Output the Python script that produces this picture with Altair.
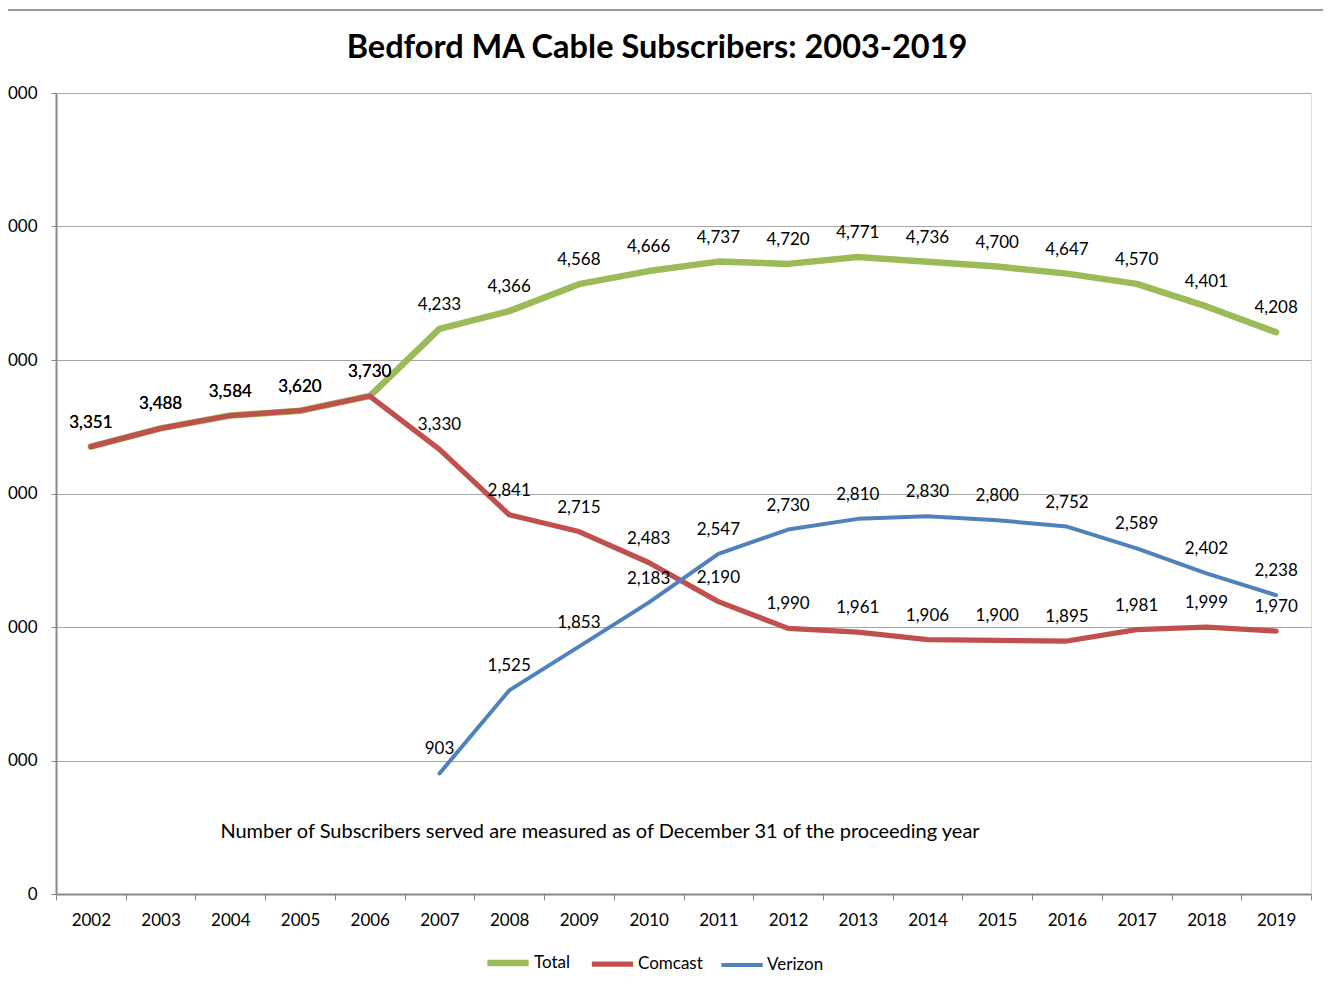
import altair as alt
import pandas as pd

years = [str(y) for y in range(2002, 2020)]
total = [3351, 3488, 3584, 3620, 3730, 4233, 4366, 4568, 4666, 4737, 4720, 4771, 4736, 4700, 4647, 4570, 4401, 4208]
comcast = [3351, 3488, 3584, 3620, 3730, 3330, 2841, 2715, 2483, 2190, 1990, 1961, 1906, 1900, 1895, 1981, 1999, 1970]
verizon_years = [str(y) for y in range(2007, 2020)]
verizon = [903, 1525, 1853, 2183, 2547, 2730, 2810, 2830, 2800, 2752, 2589, 2402, 2238]
series_names = ["Total", "Comcast", "Verizon"]
series_colors = ["#9BBB59", "#C0504D", "#4F81BD"]
series_widths = [6.5, 4, 4]
y_ticks = [0, 1000, 2000, 3000, 4000, 5000, 6000]
title_text = "Bedford MA Cable Subscribers: 2003-2019"
note_text = "Number of Subscribers served are measured as of December 31 of the proceeding year"

rows = []
for y, v in zip(years, total):
    rows.append({"year": y, "value": v, "series": "Total"})
for y, v in zip(years, comcast):
    rows.append({"year": y, "value": v, "series": "Comcast"})
for y, v in zip(verizon_years, verizon):
    rows.append({"year": y, "value": v, "series": "Verizon"})
df = pd.DataFrame(rows)

FONT = "Lato"
W, H = 1255, 801

x_enc = alt.X(
    "year:O",
    bandPosition=0.5,
    scale=alt.Scale(type="band", paddingInner=0, paddingOuter=0, domain=years),
    axis=alt.Axis(
        title=None, tickBand="extent", labelAngle=0, labelFontSize=17,
        labelPadding=12, tickSize=6, tickColor="#888888", domainColor="#888888",
        domainWidth=2, labelColor="#000000", grid=False,
    ),
)
y_enc = alt.Y(
    "value:Q",
    scale=alt.Scale(domain=[0, 6000], nice=False),
    axis=alt.Axis(
        title=None, values=y_ticks, labelExpr="datum.value == 0 ? '0' : '000'",
        labelFontSize=17, labelPadding=14, tickSize=5, tickColor="#888888",
        domainColor="#888888", domainWidth=2, gridColor="#A6A6A6", gridWidth=1.2,
        labelColor="#000000",
    ),
)
legend_cfg = dict(
    title=None, orient="none", direction="horizontal", legendX=428, legendY=846,
    symbolType="stroke", symbolSize=1700, labelFontSize=17, labelFont=FONT,
    columnPadding=10, labelOffset=2, labelColor="#000000",
)
color_enc = alt.Color(
    "series:N",
    scale=alt.Scale(domain=series_names, range=series_colors),
    legend=alt.Legend(**legend_cfg),
)
sw_enc = alt.StrokeWidth(
    "series:N",
    scale=alt.Scale(domain=series_names, range=series_widths),
    legend=alt.Legend(**legend_cfg),
)

base = alt.Chart(df)
layers = []
for s in series_names:
    layers.append(
        base.transform_filter(alt.datum.series == s)
        .mark_line(strokeCap="round", strokeJoin="round")
        .encode(x=x_enc, y=y_enc, color=color_enc, strokeWidth=sw_enc)
    )
labels = base.mark_text(dy=-24, fontSize=17, font=FONT, color="#000000").encode(
    x=x_enc, y=y_enc, text=alt.Text("value:Q", format=",")
)
note = alt.Chart(pd.DataFrame({"t": [note_text]})).mark_text(
    fontSize=20, font=FONT, color="#000000", align="center", baseline="middle"
).encode(x=alt.value(544), y=alt.value(739), text="t:N")
title = alt.Chart(pd.DataFrame({"t": [title_text]})).mark_text(
    fontSize=32.5, font=FONT, fontWeight="bold", color="#000000", align="center", baseline="middle"
).encode(x=alt.value(601), y=alt.value(-45), text="t:N")
top_rule = alt.Chart(pd.DataFrame({"a": [0]})).mark_rule(color="#999999", strokeWidth=2).encode(
    x=alt.value(-48), x2=alt.value(W + 30), y=alt.value(-83)
)

chart = alt.layer(top_rule, *layers, labels, note, title).properties(
    width=W, height=H,
    autosize=alt.AutoSizeParams(type="none"),
    padding={"left": 48, "top": 85, "right": 12, "bottom": 85},
).configure_view(stroke=None).configure_axis(labelFont=FONT).configure(font=FONT)

chart.save("out.html", embed_options={"renderer": "svg", "actions": False})
